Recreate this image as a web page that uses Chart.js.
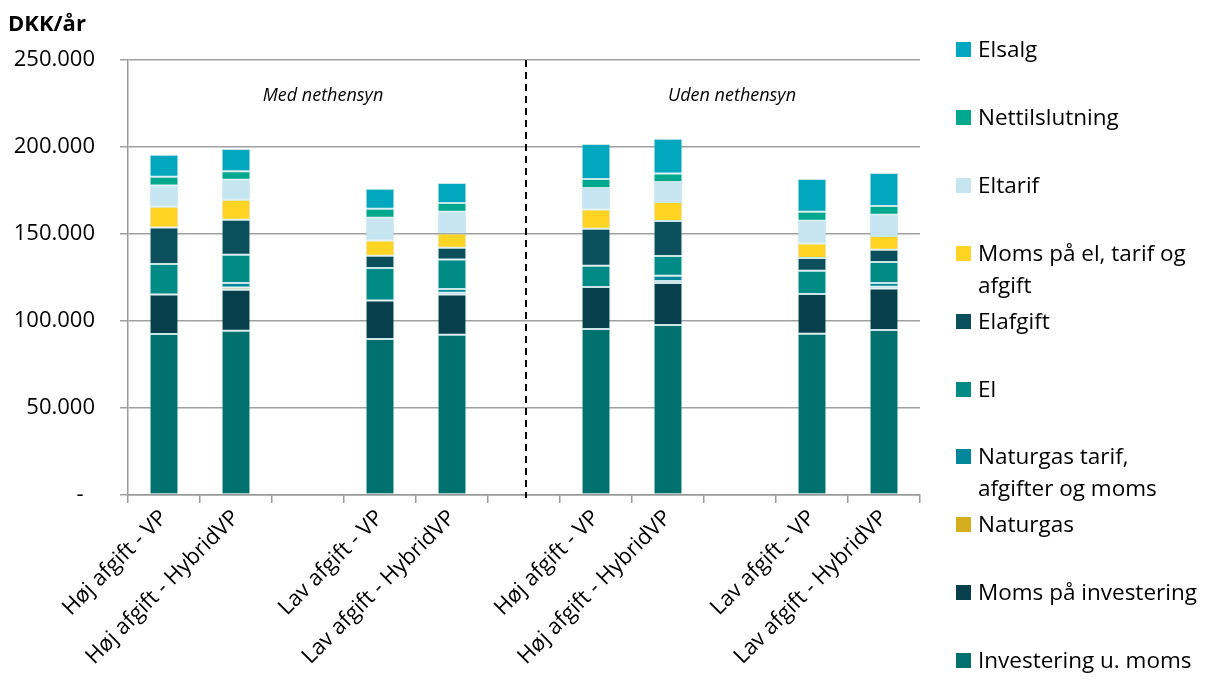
<!DOCTYPE html>
<html>
<head>
<meta charset="utf-8">
<script src="https://cdn.jsdelivr.net/npm/chart.js@4"></script>
<style>
  html, body { margin: 0; padding: 0; background: #fff; }
  #wrap { position: relative; width: 1208px; height: 686px; }
  #legend { position: absolute; left: 956px; top: 0; font-family: "Open Sans", sans-serif; font-size: 22.5px; color: #000; }
  .item { position: absolute; left: 0; width: 252px; line-height: 32px; }
  .item .box { position: absolute; left: 0; top: 9px; width: 15px; height: 15px; }
  .item .txt { margin-left: 22px; white-space: nowrap; }
</style>
</head>
<body>
<div id="wrap">
  <canvas id="chart"></canvas>
  <div id="legend"></div>
</div>
<script>
// cost components per year, empty slots separate the groups
const categories = [
  'Høj afgift - VP', 'Høj afgift - HybridVP', '',
  'Lav afgift - VP', 'Lav afgift - HybridVP', '',
  'Høj afgift - VP', 'Høj afgift - HybridVP', '',
  'Lav afgift - VP', 'Lav afgift - HybridVP'
];

const investering     = [92500, 94400, null, 89650, 92100, null, 95400, 97700, null, 92700, 94800];
const momsInvestering = [22800, 23600, null, 22200, 23200, null, 24100, 24150, null, 22800, 23950];
const naturgas        = [0, 1300, null, 0, 950, null, 0, 1150, null, 0, 950];
const naturgasTarif   = [0, 2500, null, 0, 2150, null, 0, 3050, null, 0, 2150];
const el              = [17450, 16300, null, 18600, 17000, null, 12300, 11300, null, 13400, 12050];
const elafgift        = [21050, 20100, null, 7050, 6700, null, 21250, 20100, null, 7300, 7050];
const momsEl          = [11900, 11500, null, 8800, 8250, null, 11100, 10900, null, 8400, 7900];
const eltarif         = [12200, 11500, null, 13100, 12450, null, 12250, 11500, null, 13050, 12250];
const nettilslutning  = [5000, 4800, null, 5150, 5000, null, 5200, 4850, null, 5150, 5000];
const elsalg          = [12700, 12850, null, 11500, 11500, null, 20100, 20100, null, 18800, 18950];

const groupTitles = ['Med nethensyn', 'Uden nethensyn'];

// bottom to top
const series = [
  { label: 'Investering u. moms', data: investering, color: '#00716e' },
  { label: 'Moms på investering', data: momsInvestering, color: '#073f4c' },
  { label: 'Naturgas', data: naturgas, color: '#d4ae1e' },
  { label: ['Naturgas tarif,', 'afgifter og moms'], data: naturgasTarif, color: '#00879b' },
  { label: 'El', data: el, color: '#008b87' },
  { label: 'Elafgift', data: elafgift, color: '#0b4f5c' },
  { label: ['Moms på el, tarif og', 'afgift'], data: momsEl, color: '#ffd422' },
  { label: 'Eltarif', data: eltarif, color: '#c5e5f0' },
  { label: 'Nettilslutning', data: nettilslutning, color: '#00a88e' },
  { label: 'Elsalg', data: elsalg, color: '#00a7bf' }
];

const FONT = '"Open Sans", sans-serif';

function fmt(v) {
  if (v === 0) return '-  ';
  return String(v).replace(/\B(?=(\d{3})+(?!\d))/g, '.');
}

// titles, group captions and the divider between the two groups
const extras = {
  id: 'extras',
  afterDraw(chart) {
    const ctx = chart.ctx;
    const area = chart.chartArea;
    const x = chart.scales.x;
    ctx.save();
    ctx.fillStyle = '#000';
    ctx.font = 'bold 22px ' + FONT;
    ctx.textAlign = 'left';
    ctx.textBaseline = 'middle';
    ctx.fillText('DKK/år', 8, 25);

    ctx.font = 'italic 18px ' + FONT;
    ctx.textAlign = 'center';
    ctx.fillText(groupTitles[0], (x.getPixelForValue(0) + x.getPixelForValue(4)) / 2 + 15, 96);
    ctx.fillText(groupTitles[1], (x.getPixelForValue(6) + x.getPixelForValue(10)) / 2 - 8, 96);

    const dx = x.getPixelForValue(5) + 2;
    ctx.strokeStyle = '#000';
    ctx.lineWidth = 2;
    ctx.setLineDash([7, 5]);
    ctx.beginPath();
    ctx.moveTo(dx, area.top);
    ctx.lineTo(dx, area.bottom + 3);
    ctx.stroke();
    ctx.restore();
  }
};

const canvas = document.getElementById('chart');
canvas.width = 1208;
canvas.height = 686;

new Chart(canvas.getContext('2d'), {
  type: 'bar',
  data: {
    labels: categories,
    datasets: series.map(s => ({
      label: Array.isArray(s.label) ? s.label.join(' ') : s.label,
      data: s.data,
      backgroundColor: s.color,
      borderColor: 'rgba(140, 200, 205, 0.45)',
      borderWidth: c => (c.raw ? 1 : 0),
      borderSkipped: false,
      categoryPercentage: 1,
      barPercentage: 0.4
    }))
  },
  options: {
    responsive: false,
    animation: false,
    layout: { padding: { top: 60, right: 288, left: 0, bottom: 0 } },
    plugins: {
      legend: { display: false },
      tooltip: { enabled: false }
    },
    scales: {
      x: {
        stacked: true,
        afterFit: s => { s.height = 191; },
        grid: { drawOnChartArea: false, drawTicks: true, tickLength: 8, color: '#999', lineWidth: 1.5 },
        border: { color: '#999', width: 1.5 },
        ticks: {
          autoSkip: false,
          maxRotation: 45,
          minRotation: 45,
          padding: 2,
          color: '#000',
          font: { family: FONT, size: 22 }
        }
      },
      y: {
        stacked: true,
        min: 0,
        max: 250000,
        afterFit: s => { s.width = 128; },
        grid: { color: '#a0a0a0', lineWidth: 1.5, tickLength: 8 },
        border: { color: '#999', width: 1.5 },
        ticks: {
          stepSize: 50000,
          padding: 25,
          color: '#000',
          font: { family: FONT, size: 22 },
          callback: v => fmt(v)
        }
      }
    }
  },
  plugins: [extras]
});

// legend on the right, top series first
const legend = document.getElementById('legend');
series.slice().reverse().forEach((s, i) => {
  const item = document.createElement('div');
  item.className = 'item';
  item.style.top = (49 + i * 67.9 - 16) + 'px';
  const box = document.createElement('div');
  box.className = 'box';
  box.style.background = s.color;
  const txt = document.createElement('div');
  txt.className = 'txt';
  txt.innerHTML = (Array.isArray(s.label) ? s.label : [s.label]).join('<br>');
  item.appendChild(box);
  item.appendChild(txt);
  legend.appendChild(item);
});
</script>
</body>
</html>
